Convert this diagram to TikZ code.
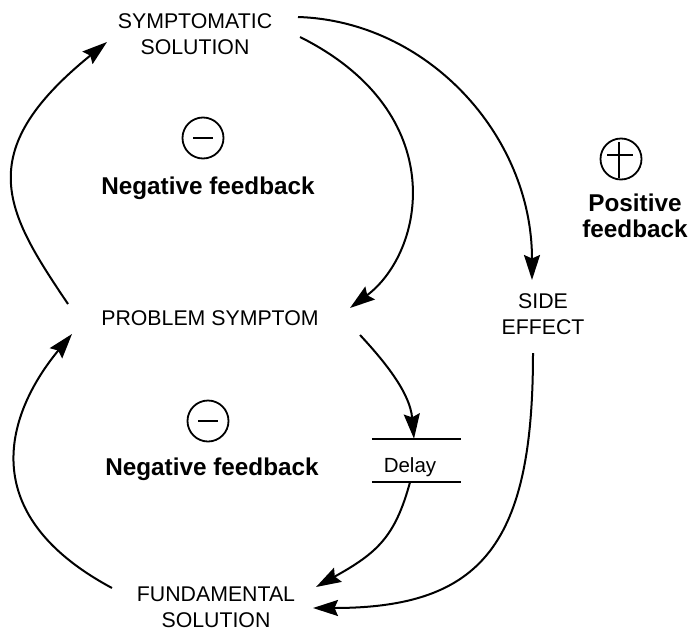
\documentclass[tikz,border=0pt]{standalone}
\usepackage{fontspec}
\setmainfont{Liberation Sans}
\usetikzlibrary{arrows.meta}

\begin{document}
\begin{tikzpicture}[x=1pt,y=-1pt,
  vartext/.style={inner sep=0pt, align=center, font=\fontsize{21.3}{26}\selectfont},
  looptext/.style={inner sep=0pt, align=center, font=\bfseries\fontsize{24.3}{26}\selectfont},
  sign/.style={draw, circle, line width=1.8pt, minimum size=41pt, inner sep=0pt},
  link/.style={line width=2pt, -{Stealth[length=25pt,width=16pt,inset=3.5pt]}},
  signbar/.style={line width=2pt}]

  % canvas
  \useasboundingbox (0,0) rectangle (688,632);
  \fill[white] (0,0) rectangle (688,632);

  % variables of the archetype
  \node[vartext] (ss) at (195,34) {SYMPTOMATIC\\SOLUTION};
  \node[vartext] (ps) at (210,318) {PROBLEM SYMPTOM};
  \node[vartext] (se) at (543,314.5) {SIDE\\EFFECT};
  \node[vartext] (fs) at (216,607.5) {FUNDAMENTAL\\SOLUTION};

  % loop labels
  \node[looptext, anchor=base] (nf1) at (208,194) {Negative feedback};
  \node[looptext, anchor=base] (nf2) at (212,475) {Negative feedback};
  \node[looptext] (pf) at (635,215.5) {Positive\\feedback};

  % loop polarity signs
  \node[sign] (m1) at (203,138) {};
  \node[sign] (m2) at (208,421) {};
  \node[sign] (p1) at (621,159) {};
  \draw[signbar] ([xshift=-10pt]m1.center) -- ([xshift=10pt]m1.center);
  \draw[signbar] ([xshift=-10pt]m2.center) -- ([xshift=10pt]m2.center);
  \draw[signbar] ([shift={(-14,-4)}]p1.center) -- ([shift={(12,-4)}]p1.center);
  \draw[signbar] ([shift={(-2,-17)}]p1.center) -- ([shift={(-2,19)}]p1.center);

  % delay marker
  \node[minimum width=89pt, minimum height=43pt, inner sep=0pt] (dbox) at (416.5,460.5) {};
  \node[inner sep=0pt, font=\fontsize{20.5}{24}\selectfont, anchor=base] (dl) at (410,472) {Delay};
  \draw[signbar] (dbox.north west) -- (dbox.north east);
  \draw[signbar] (dbox.south west) -- (dbox.south east);

  % causal links
  \draw[link] ([shift={(-142,-14)}]ps.center) .. controls +(-62,-92) and +(-137,111) .. ([shift={(-88,8)}]ss.center);
  \draw[link] ([shift={(105,3)}]ss.center) .. controls +(152,76) and +(75,-56) .. ([shift={(140,-10)}]ps.center);
  \draw[link] ([shift={(103,-17)}]ss.center) .. controls +(129,4) and +(0,-145) .. ([shift={(-11,-34.5)}]se.center);
  \draw[link] ([shift={(150,17)}]ps.center) .. controls +(27,29) and +(-4,-45) .. ([xshift=-2.5pt]dbox.north);
  \draw[link] ([xshift=-6.5pt]dbox.south) .. controls +(-15,55) and +(61,-34) .. ([shift={(100,-20.5)}]fs.center);
  \draw[link] ([shift={(-10,38.5)}]se.center) .. controls +(0,190) and +(170,0) .. ([shift={(97,0.5)}]fs.center);
  \draw[link] ([shift={(-104,-19.5)}]fs.center) .. controls +(-151,-81) and +(-54,65) .. ([shift={(-138,16)}]ps.center);
\end{tikzpicture}
\end{document}
